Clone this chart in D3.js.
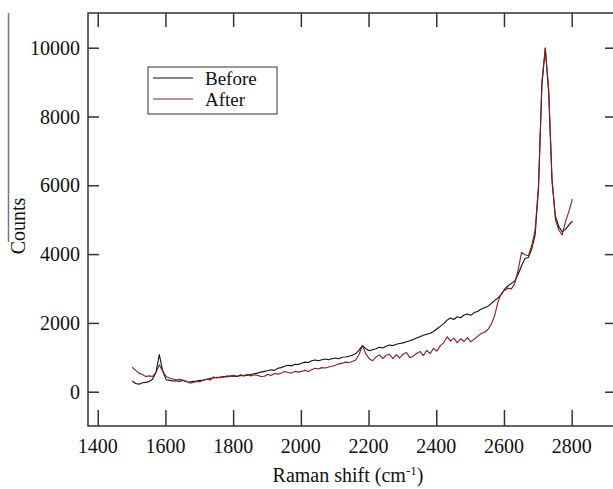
<!doctype html>
<html>
  <head>
    <meta charset="utf-8">
    <script src="https://cdn.jsdelivr.net/npm/d3@7/dist/d3.min.js"></script>
    <style>
      body { margin: 0; background: #fff; }
      text { font-family: "Liberation Serif", "Times New Roman", serif; fill: #111; }
    </style>
  </head>
  <body>
    <svg id="chart" width="613" height="489"></svg>
    <script>
      // Raman shift grid: 1502 .. 2802 cm-1 every 10
      const shiftStart = 1502;
      const shiftStep = 10;

      const before = [
        310, 240, 220, 260, 270, 300, 360, 560, 1080, 600,
        350, 330, 310, 320, 300, 330, 290, 280, 300, 310,
        330, 340, 360, 380, 400, 420, 410, 440, 430, 460,
        450, 440, 470, 460, 480, 500, 520, 540, 570, 590,
        610, 640, 620, 680, 700, 740, 770, 750, 800, 790,
        830, 860, 850, 900, 920, 900, 930, 950, 930, 960,
        980, 960, 1000, 1010, 1030, 1060, 1110, 1210, 1340, 1250,
        1190, 1220, 1250, 1290, 1270, 1320, 1360, 1340, 1380, 1400,
        1420, 1450, 1480, 1520, 1560, 1600, 1640, 1670, 1700, 1750,
        1830, 1900, 1980, 2080, 2140, 2100, 2180, 2150, 2230, 2260,
        2220, 2300, 2330, 2400, 2440, 2480, 2560, 2650, 2720, 2830,
        2980, 3080, 3150, 3220, 3420, 3660, 3870, 3900, 4150, 4550,
        5900, 8900, 9980, 8700, 6100, 5100, 4800, 4650, 4720, 4850,
        4960
      ];

      const after = [
        710, 620, 540, 500, 440, 460, 440, 560, 780, 600,
        440, 400, 370, 340, 360, 330, 300, 250, 270, 300,
        290, 330, 360, 340, 430, 400, 430, 420, 460, 440,
        480, 450, 490, 470, 500, 460, 490, 480, 440, 450,
        500, 470, 530, 510, 540, 590, 560, 540, 590, 570,
        590, 620, 590, 640, 680, 660, 700, 690, 720, 740,
        770, 810, 830, 860, 850, 880, 920, 1080, 1350, 1100,
        960, 900, 1010, 1070, 960, 1060, 1090, 960, 1080, 980,
        1090, 1140, 990, 1040, 1110, 1170, 1050, 1200, 1110, 1260,
        1180, 1340, 1420, 1600, 1470, 1560, 1420, 1540, 1460, 1570,
        1450, 1530, 1610, 1690, 1720, 1800, 1950, 2200, 2600, 2850,
        2950, 3010, 2990, 3150, 3550, 4050, 3980, 3950, 4250, 4700,
        6000, 9000, 10000, 8800, 6200, 5000, 4700, 4560, 4950, 5250,
        5600
      ];

      const xTicks = [1400, 1600, 1800, 2000, 2200, 2400, 2600, 2800];
      const yTicks = [0, 2000, 4000, 6000, 8000, 10000];
      const seriesNames = ["Before", "After"];
      const seriesColors = ["#111111", "#8c1c1c"];

      const svg = d3.select("#chart");
      const mLeft = 88, mRight = 614, mTop = 13, mBottom = 426;

      const x = d3.scaleLinear().domain([1371.3, 2925]).range([mLeft, mRight]);
      const y = d3.scaleLinear().domain([-997, 11009]).range([mBottom, mTop]);

      // stray border line at far left
      svg.append("line")
        .attr("x1", 8.5).attr("x2", 8.5)
        .attr("y1", 13).attr("y2", 242)
        .style("stroke", "#777")
        .style("stroke-width", 1.5);

      // frame
      svg.append("rect")
        .attr("x", mLeft).attr("y", mTop)
        .attr("width", mRight - mLeft).attr("height", mBottom - mTop)
        .style("fill", "none")
        .style("stroke", "#333")
        .style("stroke-width", 1.5);

      // inward ticks on all four sides
      svg.append("g").attr("transform", "translate(0," + mBottom + ")")
        .call(d3.axisBottom(x).tickValues(xTicks).tickSizeInner(-16).tickSizeOuter(0).tickFormat(""))
        .call(g => g.select(".domain").remove());
      svg.append("g").attr("transform", "translate(0," + mTop + ")")
        .call(d3.axisTop(x).tickValues(xTicks).tickSizeInner(-14).tickSizeOuter(0).tickFormat(""))
        .call(g => g.select(".domain").remove());
      svg.append("g").attr("transform", "translate(" + mLeft + ",0)")
        .call(d3.axisLeft(y).tickValues(yTicks).tickSizeInner(-11).tickSizeOuter(0).tickFormat(""))
        .call(g => g.select(".domain").remove());
      svg.append("g").attr("transform", "translate(" + mRight + ",0)")
        .call(d3.axisRight(y).tickValues(yTicks).tickSizeInner(-9).tickSizeOuter(0).tickFormat(""))
        .call(g => g.select(".domain").remove());
      svg.selectAll(".tick line").style("stroke", "#333").style("stroke-width", 1.5);

      // tick labels
      svg.selectAll(".xlab")
        .data(xTicks)
        .enter()
        .append("text")
        .attr("x", d => x(d))
        .attr("y", 453)
        .attr("text-anchor", "middle")
        .style("font-size", "20px")
        .text(d => d);

      svg.selectAll(".ylab")
        .data(yTicks)
        .enter()
        .append("text")
        .attr("x", 80)
        .attr("y", d => y(d))
        .attr("dy", "0.35em")
        .attr("text-anchor", "end")
        .style("font-size", "20px")
        .text(d => d);

      // axis titles
      const xt = svg.append("text")
        .attr("x", 348)
        .attr("y", 482)
        .attr("text-anchor", "middle")
        .style("font-size", "20px");
      xt.append("tspan").text("Raman shift (cm");
      xt.append("tspan").attr("dy", -7).style("font-size", "13px").text("-1");
      xt.append("tspan").attr("dy", 7).text(")");

      svg.append("text")
        .attr("transform", "translate(25,226) rotate(-90)")
        .attr("text-anchor", "middle")
        .style("font-size", "20px")
        .text("Counts");

      // spectra
      const line = d3.line()
        .x((d, i) => x(shiftStart + i * shiftStep))
        .y(d => y(d));

      [before, after].forEach((s, k) => {
        svg.append("path")
          .datum(s)
          .attr("d", line)
          .style("fill", "none")
          .style("stroke", seriesColors[k])
          .style("stroke-width", 1.1)
          .style("stroke-linejoin", "round");
      });

      // legend
      const lg = svg.append("g").attr("transform", "translate(148,67)");
      lg.append("rect")
        .attr("width", 129).attr("height", 47)
        .style("fill", "#fff")
        .style("stroke", "#333")
        .style("stroke-width", 1);
      seriesNames.forEach((n, k) => {
        lg.append("line")
          .attr("x1", 5).attr("x2", 45)
          .attr("y1", 11 + k * 21).attr("y2", 11 + k * 21)
          .style("stroke", seriesColors[k])
          .style("stroke-width", 1.2);
        lg.append("text")
          .attr("x", 57)
          .attr("y", 11 + k * 21)
          .attr("dy", "0.35em")
          .style("font-size", "19px")
          .text(n);
      });
    </script>
  </body>
</html>
